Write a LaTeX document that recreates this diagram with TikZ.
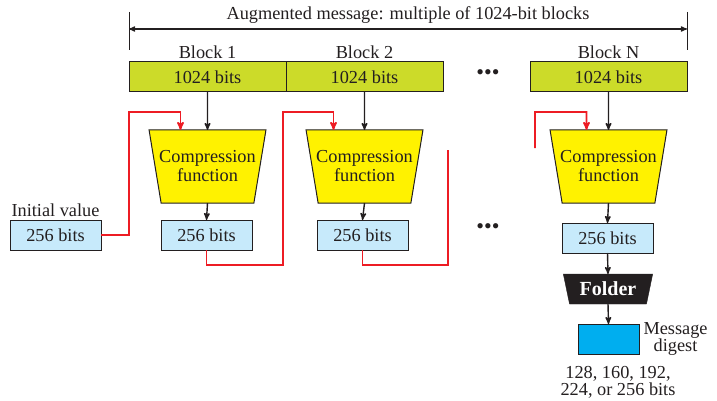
\documentclass[tikz,border=0pt]{standalone}
\usepackage{fontspec}
\setmainfont{Liberation Serif}
\usetikzlibrary{shapes.geometric}
\usetikzlibrary{positioning}
\usetikzlibrary{arrows}

\definecolor{blockgreen}{RGB}{204,219,41}
\definecolor{compyellow}{RGB}{255,242,0}
\definecolor{hashblue}{RGB}{199,234,251}
\definecolor{digestblue}{RGB}{0,174,239}
\definecolor{inkgray}{RGB}{35,31,32}
\definecolor{feedred}{RGB}{237,28,36}

\begin{document}
\begin{tikzpicture}[x=1pt,y=-1pt,>=stealth',
	every node/.style={font=\rmfamily\fontsize{18.3}{19}\selectfont,text=inkgray},
	block/.style={draw=inkgray,line width=1pt,fill=blockgreen,minimum width=157pt,
		minimum height=30pt,inner sep=0pt,outer sep=0pt},
	hash box/.style={draw=inkgray,line width=1pt,fill=hashblue,minimum width=91pt,
		minimum height=30pt,inner sep=0pt,outer sep=0pt},
	comp/.style={trapezium,draw=inkgray,line width=1pt,fill=compyellow,
		shape border rotate=180,trapezium angle=74,trapezium stretches=true,
		minimum width=117pt,minimum height=73pt,inner sep=0pt,outer sep=0pt},
	folder/.style={trapezium,draw=inkgray,fill=inkgray,shape border rotate=180,
		trapezium angle=72,trapezium stretches=true,minimum width=90pt,
		minimum height=30pt,inner sep=0pt,outer sep=0pt,text=white,
		font=\rmfamily\bfseries\fontsize{20}{20}\selectfont},
	flow/.style={->,draw=inkgray,line width=1.4pt},
	feed/.style={draw=feedred,line width=1.7pt}]

	\useasboundingbox (0,0) rectangle (717,401);

	% message span
	\coordinate (spanL) at (129,12);
	\coordinate (spanR) at (687,12);
	\draw[inkgray,line width=1pt] (spanL) -- ++(0,38);
	\draw[inkgray,line width=1pt] (spanR) -- ++(0,38);
	\draw[<->,inkgray,line width=1.2pt] ([yshift=-17pt]spanL) -- ([yshift=-17pt]spanR);
	\node (span) at (408,15) {Augmented message: multiple of 1024-bit blocks};

	% blocks
	\node[block] (b1) at (207.5,77) {1024 bits};
	\node[block] (b2) at (364.5,77) {1024 bits};
	\node[block] (bN) at (608.5,77) {1024 bits};
	\node[above=0pt of b1] (l1) {Block 1};
	\node[above=0pt of b2] (l2) {Block 2};
	\node[above=0pt of bN] (lN) {Block N};
	\node (dots1) at (488,75) {\fontsize{22}{22}\selectfont\textbullet\textbullet\textbullet};

	% compression
	\node[comp,label={[align=center]center:Compression\\function}] (c1) at (207.5,166.5) {\phantom{XX}};
	\node[comp,label={[align=center]center:Compression\\function}] (c2) at (364.5,166.5) {\phantom{XX}};
	\node[comp,label={[align=center]center:Compression\\function}] (cN) at (608.5,166.5) {\phantom{XX}};

	% chaining values
	\node[hash box] (iv) at (55.5,235) {256 bits};
	\node[above=0pt of iv] (ivl) {Initial value};
	\node[hash box] (h1) at (206.5,235) {256 bits};
	\node[hash box] (h2) at (362.5,235) {256 bits};
	\node[hash box] (hN) at (607.5,238) {256 bits};
	\node (dots2) at (488,229) {\fontsize{22}{22}\selectfont\textbullet\textbullet\textbullet};

	% output
	\node[folder] (fold) at (608,289) {Folder};
	\node[draw=inkgray,line width=1pt,fill=digestblue,minimum width=61pt,minimum height=30pt,
		inner sep=0pt,outer sep=0pt] (md) at (608.5,339) {};
	\node[right=1pt of md,align=center,font=\rmfamily\fontsize{18.3}{14}\selectfont] (mdl) {Message\\digest};
	\node[below=9pt of md,xshift=9.5pt,align=center,font=\rmfamily\fontsize{18.3}{15}\selectfont] (sizes)
		{128, 160, 192,\\224, or 256 bits};

	\draw[flow] (b1.south) -- (c1.north);
	\draw[flow] (b2.south) -- (c2.north);
	\draw[flow] (bN.south) -- (cN.north);
	\draw[flow] (c1.south) -- (h1.north);
	\draw[flow] (c2.south) -- (h2.north);
	\draw[flow] (cN.south) -- (hN.north);
	\draw[flow] (hN.south) -- (fold.north);
	\draw[flow] (fold.south) -- (md.north);

	% feed forward of the chaining value
	\coordinate (gapend) at (448,150);
	\coordinate (gapstart) at (535,148);
	\draw[feed,->] (iv.east) -| ([yshift=-20pt]b1.south west) -| ([xshift=-27pt]c1.north);
	\draw[feed,->] (h1.south) -- ++(0,15) -| ([xshift=-3pt,yshift=-20pt]b1.south east)
		-| ([xshift=-31pt]c2.north);
	\draw[feed] (h2.south) -- ++(0,15) -| (gapend);
	\draw[feed,->] (gapstart) |- ([xshift=-22pt,yshift=-20pt]bN.south) -- ([xshift=-22pt]cN.north);
\end{tikzpicture}
\end{document}
